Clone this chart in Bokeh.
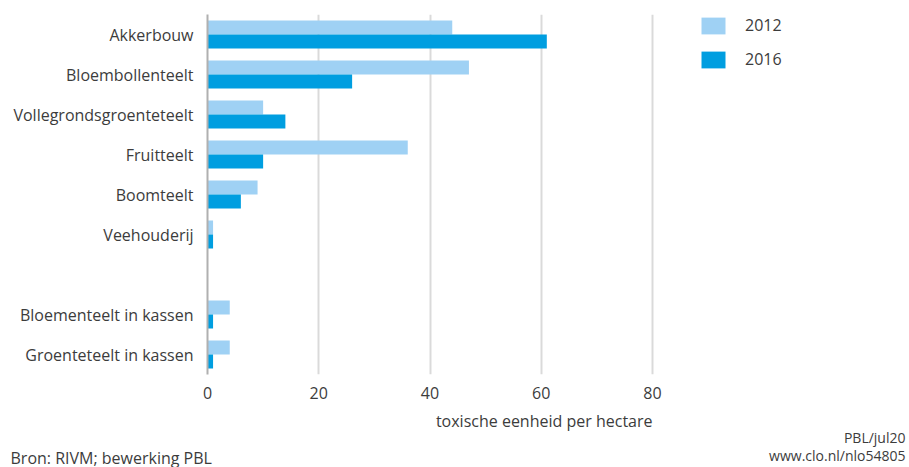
from bokeh.plotting import figure
from bokeh.layouts import column
from bokeh.models import ColumnDataSource, FactorRange, FixedTicker, Label, Legend, LegendItem
from bokeh.transform import dodge
from bokeh.embed import file_html
from bokeh.resources import INLINE

# ---- data ----
categories = ["Akkerbouw", "Bloembollenteelt", "Vollegrondsgroenteteelt", "Fruitteelt",
              "Boomteelt", "Veehouderij", "Bloementeelt in kassen", "Groenteteelt in kassen"]
slots = ["Akkerbouw", "Bloembollenteelt", "Vollegrondsgroenteteelt", "Fruitteelt",
         "Boomteelt", "Veehouderij", " ", "Bloementeelt in kassen", "Groenteteelt in kassen"]
v2012 = [44, 47, 10, 36, 9, 1, 4, 4]
v2016 = [61, 26, 14, 10, 6, 1, 1, 1]
x_ticks = [0, 20, 40, 60, 80]
years = ["2012", "2016"]

FONT = "Open Sans"
TXT = "#3c3c3c"
C2012 = "#9fd1f4"
C2016 = "#009ee0"

W = 909
LEFT = 207          # frame left edge (px)
PX_PER_UNIT = 445 / 80

src = ColumnDataSource(dict(cat=categories, v2012=v2012, v2016=v2016))

p = figure(width=W, height=410, output_backend="svg", toolbar_location=None,
           y_range=FactorRange(factors=list(reversed(slots)), range_padding=0),
           x_range=(0, (W - LEFT) / PX_PER_UNIT),
           min_border_left=LEFT, min_border_right=0, min_border_top=14, min_border_bottom=36)
p.frame_align = False
p.outline_line_color = None
p.background_fill_color = "white"
p.border_fill_color = "white"

r1 = p.hbar(y=dodge("cat", 0.175, range=p.y_range), right="v2012", left=0, height=0.35,
            source=src, fill_color=C2012, line_color=None)
r2 = p.hbar(y=dodge("cat", -0.175, range=p.y_range), right="v2016", left=0, height=0.35,
            source=src, fill_color=C2016, line_color=None)

# axes
p.xaxis.ticker = FixedTicker(ticks=x_ticks)
p.xgrid.ticker = FixedTicker(ticks=x_ticks)
p.xaxis.axis_line_color = None
p.xaxis.major_tick_line_color = None
p.xaxis.minor_tick_line_color = None
p.xaxis.major_label_standoff = 6
p.xaxis.major_label_text_font = FONT
p.xaxis.major_label_text_font_size = "16px"
p.xaxis.major_label_text_color = TXT

p.yaxis.axis_line_color = "#b0b0b0"
p.yaxis.axis_line_width = 2
p.yaxis.major_tick_line_color = None
p.yaxis.minor_tick_line_color = None
p.yaxis.major_label_standoff = 8
p.yaxis.major_label_text_font = FONT
p.yaxis.major_label_text_font_size = "16px"
p.yaxis.major_label_text_color = TXT

p.ygrid.grid_line_color = None
p.xgrid.grid_line_color = "#dadada"
p.xgrid.grid_line_width = 2

# legend (inside the wide frame, to the right of the 80 gridline)
legend = Legend(items=[LegendItem(label=years[0], renderers=[r1]),
                       LegendItem(label=years[1], renderers=[r2])],
                location=(491, 304), orientation="vertical",
                glyph_width=30, glyph_height=21, spacing=12, label_standoff=17,
                padding=0, margin=0, border_line_color=None, background_fill_alpha=0,
                label_text_font=FONT, label_text_font_size="16px", label_text_color=TXT)
p.add_layout(legend, "center")

# footer with texts (pixel-like data units)
FH = 57
q = figure(width=W, height=FH, output_backend="svg", toolbar_location=None,
           x_range=(0, W), y_range=(0, FH), x_axis_type=None, y_axis_type=None,
           min_border=0)
q.frame_align = False
q.outline_line_color = None
q.grid.visible = False

def lab(text, x, y, align, size):
    q.add_layout(Label(x=x, y=y, text=text, text_align=align, text_baseline="middle",
                       text_font=FONT, text_font_size=size, text_color=TXT))

lab("toxische eenheid per hectare", 652, 47, "right", "16px")
lab("Bron: RIVM; bewerking PBL", 10, 10, "left", "16px")
lab("PBL/jul20", 905, 30, "right", "14px")
lab("www.clo.nl/nlo54805", 905, 12, "right", "14px")

layout = column(p, q, spacing=0)
open("out.html", "w").write(file_html(layout, INLINE))
